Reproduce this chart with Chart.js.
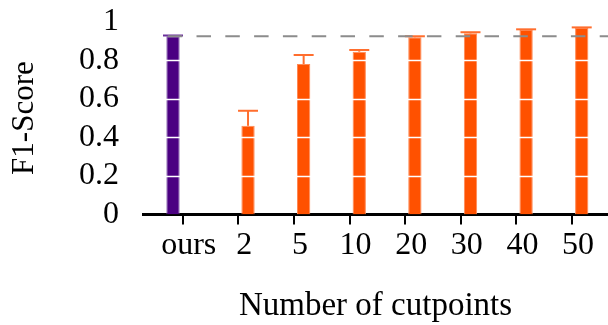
<!DOCTYPE html>
<html><head><meta charset="utf-8">
<script src="https://cdn.jsdelivr.net/npm/chart.js@4.4.1/dist/chart.umd.min.js"></script>
<style>html,body{margin:0;padding:0;background:#fff;}</style>
</head><body>
<canvas id="c" width="608" height="325" style="width:608px;height:325px;display:block"></canvas>
<script>
const categories = ['ours', '2', '5', '10', '20', '30', '40', '50'];
const oursValues = [0.924];
const oursErrors = [0.004];
const cutpointValues = [0.46, 0.78, 0.844, 0.919, 0.939, 0.956, 0.967];
const cutpointErrors = [0.078, 0.047, 0.009, 0.005, 0.006, 0.004, 0.003];
const referenceLine = 0.924;
const yTickValues = [0, 0.2, 0.4, 0.6, 0.8, 1];
const yTickLabels = ['0', '0.2', '0.4', '0.6', '0.8', '1'];

const FONT = "'Liberation Serif', 'Times New Roman', serif";

const oursData = oursValues.map((v, i) => ({x: i, y: v}));
const cutData = cutpointValues.map((v, i) => ({x: i + 1, y: v}));

const overlay = {
  id: 'overlay',
  afterDatasetsDraw(chart) {
    const ctx = chart.ctx;
    const ys = chart.scales.y, xs = chart.scales.x;
    const area = chart.chartArea;
    ctx.save();
    ctx.strokeStyle = '#ffffff';
    ctx.lineWidth = 1.6;
    yTickValues.forEach(v => {
      if (v <= 0 || v >= 1) return;
      const py = Math.round(ys.getPixelForValue(v)) + 0.5;
      ctx.beginPath(); ctx.moveTo(area.left, py); ctx.lineTo(area.right, py); ctx.stroke();
    });
    const errSets = [oursErrors, cutpointErrors];
    const valSets = [oursValues, cutpointValues];
    const colors = ['#6b2f9c', '#ff6e2e'];
    chart.data.datasets.forEach((ds, di) => {
      const meta = chart.getDatasetMeta(di);
      meta.data.forEach((bar, i) => {
        const v = valSets[di][i], e = errSets[di][i];
        const yTop = ys.getPixelForValue(v + e);
        const yBar = ys.getPixelForValue(v);
        ctx.strokeStyle = colors[di];
        ctx.lineWidth = 2;
        ctx.beginPath(); ctx.moveTo(bar.x, yBar); ctx.lineTo(bar.x, yTop); ctx.stroke();
        ctx.beginPath(); ctx.moveTo(bar.x - 10, yTop); ctx.lineTo(bar.x + 10, yTop); ctx.stroke();
      });
    });
    const ry = ys.getPixelForValue(referenceLine);
    ctx.strokeStyle = '#8c8c8c';
    ctx.lineWidth = 2;
    ctx.setLineDash([14.5, 14.3]);
    ctx.beginPath(); ctx.moveTo(xs.getPixelForValue(0) - 15, ry); ctx.lineTo(area.right, ry); ctx.stroke();
    ctx.restore();
  },
  afterDraw(chart) {
    const ctx = chart.ctx;
    const xs = chart.scales.x;
    const y0 = chart.scales.y.getPixelForValue(0);
    ctx.save();
    ctx.setLineDash([]);
    ctx.strokeStyle = '#000';
    ctx.lineWidth = 2;
    categories.forEach((c, i) => {
      const px = Math.round(xs.getPixelForValue(i));
      ctx.beginPath(); ctx.moveTo(px, y0); ctx.lineTo(px, y0 + 10); ctx.stroke();
    });
    ctx.restore();
  }
};

new Chart(document.getElementById('c'), {
  type: 'bar',
  data: {
    datasets: [
      {label: 'ours', data: oursData, backgroundColor: '#4b0082', borderColor: '#7d52a6', borderWidth: 1, categoryPercentage: 0.698, barPercentage: 0.686},
      {label: 'cutpoints', data: cutData, backgroundColor: '#ff5100', borderColor: '#ff8a55', borderWidth: 1, categoryPercentage: 0.698, barPercentage: 0.686}
    ]
  },
  options: {
    responsive: false,
    devicePixelRatio: 1,
    animation: false,
    layout: {padding: {top: 21.6, right: 0, left: 0, bottom: 0}},
    plugins: {legend: {display: false}, tooltip: {enabled: false}},
    scales: {
      x: {
        type: 'linear',
        min: -0.714, max: 7.647,
        offset: false,
        afterBuildTicks: s => { s.ticks = categories.map((c, i) => ({value: i})); },
        afterFit: s => { s.height = 325 - 214.6; s.paddingLeft = 0; s.paddingRight = 0; },
        border: {display: true, color: '#000', width: 3},
        grid: {display: true, offset: false, drawOnChartArea: false, drawTicks: true, tickLength: 9, color: '#000', lineWidth: 2},
        ticks: {autoSkip: false, maxRotation: 0, padding: 3, labelOffset: 6, color: '#000', font: {family: FONT, size: 32},
          callback: (v) => categories[v]},
        title: {display: true, text: 'Number of cutpoints', color: '#000', font: {family: FONT, size: 33, lineHeight: 1}, padding: {top: 0, bottom: 2}}
      },
      y: {
        min: 0, max: 1,
        afterBuildTicks: s => { s.ticks = yTickValues.map(v => ({value: v})); },
        afterFit: s => { s.width = 143; s.paddingTop = 0; s.paddingBottom = 0; },
        border: {display: false},
        grid: {display: false, drawTicks: false},
        ticks: {autoSkip: false, padding: 24, color: '#000', font: {family: FONT, size: 32},
          callback: (v) => yTickLabels[yTickValues.indexOf(v)]},
        title: {display: true, text: 'F1-Score', color: '#000', font: {family: FONT, size: 31, lineHeight: 1}, padding: {top: 9, bottom: 0}}
      }
    }
  },
  plugins: [overlay]
});
</script>
</body></html>
